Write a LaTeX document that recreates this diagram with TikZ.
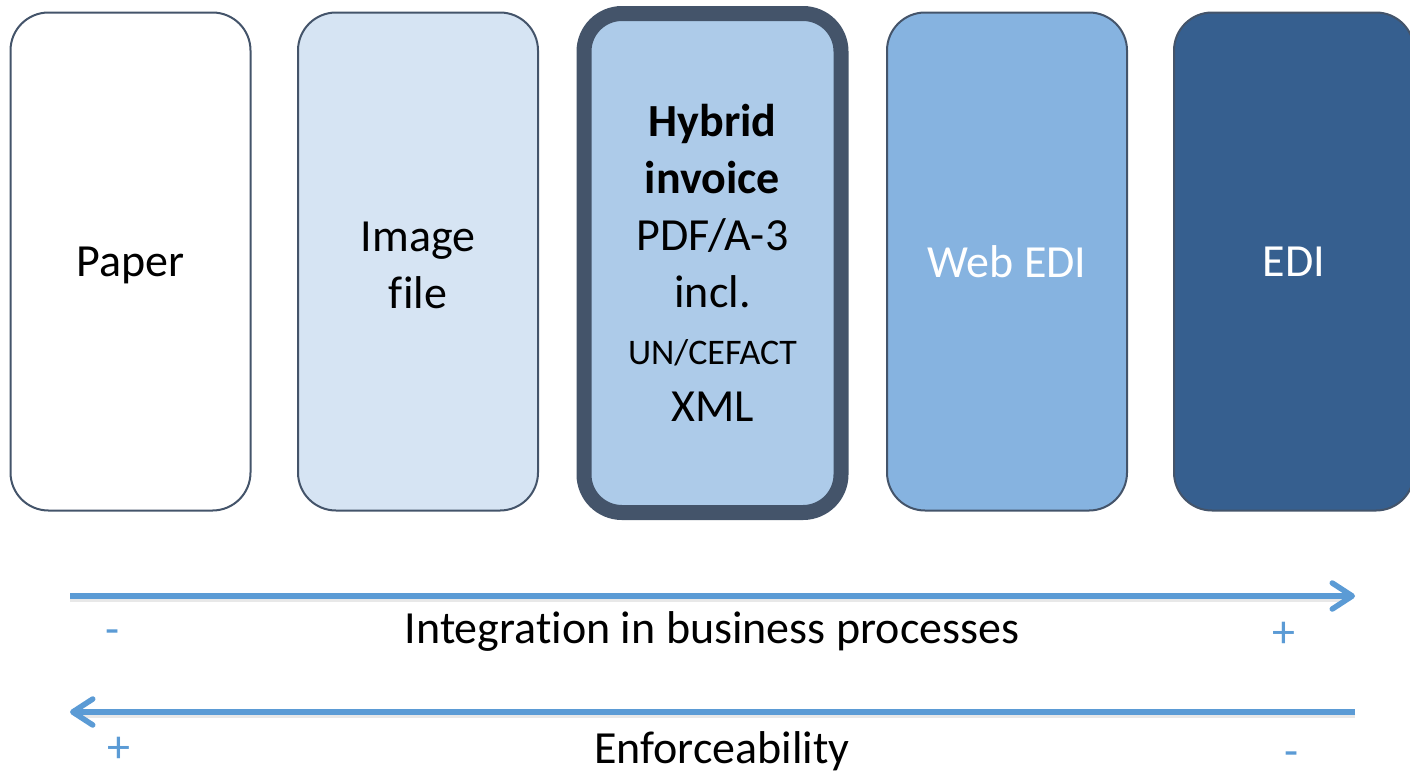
\documentclass[tikz,border=0pt]{standalone}
\usepackage{fontspec}
\setmainfont[Ligatures=NoCommon]{Carlito}
\usetikzlibrary{arrows.meta}
\definecolor{edgecol}{HTML}{44546A}
\definecolor{fillimg}{HTML}{D6E4F3}
\definecolor{fillhyb}{HTML}{ADCBE9}
\definecolor{fillweb}{HTML}{86B3E0}
\definecolor{filledi}{HTML}{365F8F}
\definecolor{arrowcol}{HTML}{5B9BD5}
\newcommand{\lowr}[1]{\raisebox{-4pt}[\height][\depth]{#1}}
\begin{document}
\begin{tikzpicture}[x=1pt,y=-1pt,
  card/.style={draw=edgecol, line width=2pt, rounded corners=38pt,
    minimum width=240pt, minimum height=498pt, inner sep=0pt, align=center,
    font=\fontsize{46}{57}\selectfont},
  hybcard/.style={card, line width=15pt, minimum width=257pt, minimum height=499pt, rounded corners=38pt},
  bigarrow/.style={draw=arrowcol, line width=5.5pt,
    -{Straight Barb[length=20pt, width=26pt, line cap=round, line join=round]}},
  shadowline/.style={draw=black!18, line width=5pt, opacity=0.5},
  caption/.style={font=\fontsize{46}{57}\selectfont, inner sep=0pt},
  sign/.style={font=\fontsize{46}{57}\selectfont, text=arrowcol, inner sep=0pt}
]
\useasboundingbox (0,0) rectangle (1410,772);
\clip (0,0) rectangle (1410,772);
\node[card, fill=white] (paper) at (130.5,261.5) {\lowr{Paper}};
\node[card, fill=fillimg] (image) at (418,261.5) {\lowr{Image}\\\lowr{file}};
\node[hybcard, fill=fillhyb] (hybrid) at (712.5,263) {\textbf{Hybrid}\\\textbf{invoice}\\PDF/A-3\\incl.\\{\fontsize{36}{57}\selectfont UN/CEFACT}\\XML};
\node[card, fill=fillweb, text=white] (webedi) at (1007,261.5) {Web EDI};
\node[card, fill=filledi, text=white] (edi) at (1294,261.5) {EDI};

\coordinate (a1s) at (70,596);
\coordinate (a1e) at (1355,596);
\coordinate (a2s) at (1355,712);
\coordinate (a2e) at (70,712);
\draw[shadowline] ([yshift=-3pt]a1s) -- ([yshift=-3pt,xshift=-10pt]a1e);
\draw[shadowline] ([yshift=-3pt]a2s) -- ([yshift=-3pt,xshift=10pt]a2e);
\draw[bigarrow] (a1s) -- (a1e);
\draw[bigarrow] (a2s) -- (a2e);

\node[caption] (integ) at (712,631) {Integration in business processes};
\node[caption] (enf) at (722,751) {Enforceability};
\node[sign] (m1) at (113,637) {-};
\node[sign] (p1) at (1284,635) {+};
\node[sign] (p2) at (119,750) {+};
\node[sign] (m2) at (1292,759) {-};
\end{tikzpicture}
\end{document}
